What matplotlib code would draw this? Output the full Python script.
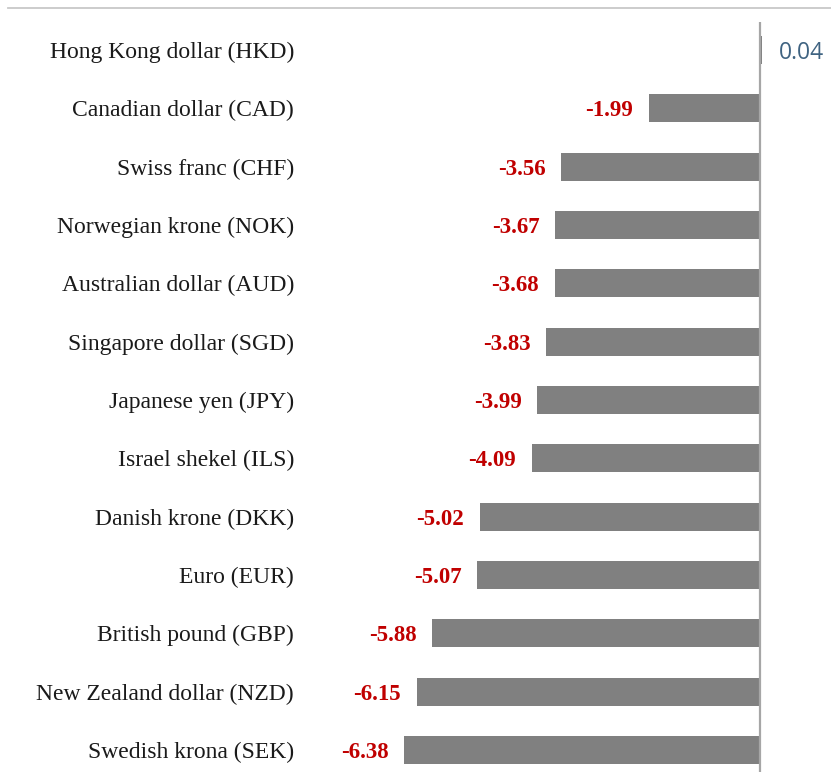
import matplotlib.pyplot as plt
from matplotlib.lines import Line2D

currencies = [
    "Hong Kong dollar (HKD)", "Canadian dollar (CAD)", "Swiss franc (CHF)",
    "Norwegian krone (NOK)", "Australian dollar (AUD)", "Singapore dollar (SGD)",
    "Japanese yen (JPY)", "Israel shekel (ILS)", "Danish krone (DKK)",
    "Euro (EUR)", "British pound (GBP)", "New Zealand dollar (NZD)",
    "Swedish krona (SEK)",
]
changes = [0.04, -1.99, -3.56, -3.67, -3.68, -3.83, -3.99, -4.09,
           -5.02, -5.07, -5.88, -6.15, -6.38]

W, H = 831, 772
fig = plt.figure(figsize=(W / 100, H / 100), dpi=100)
ax = fig.add_axes([305 / W, 0, 1 - 305 / W, (772 - 22) / H])

pos = list(range(len(currencies)))
ax.barh(pos, changes, height=0.48, color="#808080", zorder=2)
ax.axvline(0, color="#a6a6a6", lw=1.6, zorder=3)

ax.set_xlim(-(760 - 305) / 55.8, (831 - 760) / 55.8)
ax.set_ylim((772 - 50) / 58.33, -28 / 58.33)

ax.set_yticks(pos)
ax.set_yticklabels(currencies, fontfamily="Liberation Serif", fontsize=17, color="#1a1a1a")
ax.tick_params(axis="y", length=0, pad=8)
ax.set_xticks([])
for s in ax.spines.values():
    s.set_visible(False)

for p, v in zip(pos, changes):
    if v < 0:
        ax.text(v - 0.28, p, f"{v:.2f}", ha="right", va="center_baseline",
                fontfamily="Liberation Serif", fontweight="bold",
                fontsize=16.5, color="#c00000")
    else:
        ax.text(v + 0.3, p, f"{v:.2f}", ha="left", va="center_baseline",
                fontfamily="Open Sans", fontsize=16.5, color="#3f6381")

fig.add_artist(Line2D([8 / W, 1], [1 - 8 / H, 1 - 8 / H], color="#c8c8c8", lw=1.3))

fig.savefig("out.png", dpi=100, facecolor="white")
